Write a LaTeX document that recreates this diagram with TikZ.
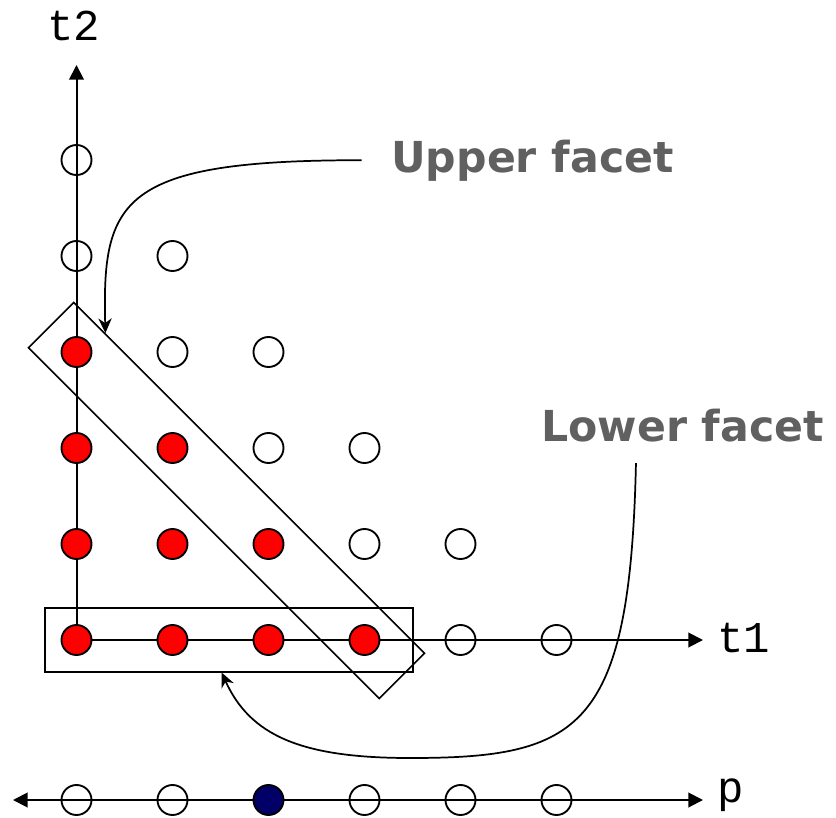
\documentclass[tikz,border=0pt]{standalone}
\usepackage{fontspec}
\usepackage{xcolor}
\usetikzlibrary{arrows.meta,calc,backgrounds}
\newfontfamily\facetfont{DejaVu Sans}
\newfontfamily\axisfont{Liberation Mono}
\definecolor{facetgray}{RGB}{96,96,96}
\definecolor{pointred}{RGB}{255,0,0}
\definecolor{pointnavy}{RGB}{0,0,102}
\tikzset{
  pt/.style={circle,draw,line width=1.4pt,minimum size=22.5pt,inner sep=0pt},
  ptred/.style={pt,fill=pointred},
  ptnavy/.style={pt,fill=pointnavy},
  axis/.style={line width=1.5pt,-{Triangle[length=11pt,width=11pt]}},
  facetbox/.style={draw,line width=1.2pt,inner sep=0pt},
  pointer/.style={line width=1.3pt,-{Stealth[length=11pt,width=10pt]}},
  facetlabel/.style={inner sep=0pt,text=facetgray,font=\facetfont\bfseries\fontsize{32}{38}\selectfont},
  axislabel/.style={inner sep=0pt,font=\axisfont\fontsize{33}{38}\selectfont}
}

\begin{document}
\begin{tikzpicture}[x=0.75pt,y=0.75pt,yscale=-1,xscale=1]
\useasboundingbox (0,0) rectangle (836,818);

%Shape: Circle (row t2=0)
\node [ptred] (g00) at (76.5,640) {};
\node [ptred] (g10) at (172.5,640) {};
\node [ptred] (g20) at (268.5,640) {};
\node [ptred] (g30) at (364.5,640) {};
\node [pt] (g40) at (460.5,640) {};
\node [pt] (g50) at (556.5,640) {};
%Shape: Circle (row t2=1)
\node [ptred] (g01) at (76.5,544) {};
\node [ptred] (g11) at (172.5,544) {};
\node [ptred] (g21) at (268.5,544) {};
\node [pt] (g31) at (364.5,544) {};
\node [pt] (g41) at (460.5,544) {};
%Shape: Circle (row t2=2)
\node [ptred] (g02) at (76.5,448) {};
\node [ptred] (g12) at (172.5,448) {};
\node [pt] (g22) at (268.5,448) {};
\node [pt] (g32) at (364.5,448) {};
%Shape: Circle (row t2=3)
\node [ptred] (g03) at (76.5,352) {};
\node [pt] (g13) at (172.5,352) {};
\node [pt] (g23) at (268.5,352) {};
%Shape: Circle (row t2=4)
\node [pt] (g04) at (76.5,256) {};
\node [pt] (g14) at (172.5,256) {};
%Shape: Circle (row t2=5)
\node [pt] (g05) at (76.5,160) {};

%Shape: Circle (p line)
\node [pt] (p0) at (76.5,800) {};
\node [pt] (p1) at (172.5,800) {};
\node [ptnavy] (p2) at (268.5,800) {};
\node [pt] (p3) at (364.5,800) {};
\node [pt] (p4) at (460.5,800) {};
\node [pt] (p5) at (556.5,800) {};

%Shape: Rectangle (lower facet)
\node [facetbox,minimum width=276pt,minimum height=48pt] (lowerbox) at (229,639.7) {};
%Shape: Rectangle (upper facet)
\node [facetbox,rotate=-45,minimum width=372pt,minimum height=48pt] (upperbox) at (226.5,500.5) {};

% Text Node
\node [axislabel,anchor=base west] (t2) at (47,40) {t2};
% Text Node
\node [axislabel,anchor=base west] (t1) at (717,652) {t1};
% Text Node
\node [axislabel,anchor=base west] (p) at (717,802) {p};
% Text Node
\node [facetlabel,anchor=base west] (upper) at (391,172) {Upper facet};
% Text Node
\node [facetlabel,anchor=base west] (lower) at (541,441) {Lower facet};

\coordinate (t2tip) at (76.5,65);
\coordinate (t1tip) at (703,640);
\coordinate (pleft) at (13,800);
\coordinate (pright) at (703,800);

\begin{scope}[on background layer]
%Straight Lines
\draw [axis] (g00.center) -- (t2tip);
\draw [axis] (g00.center) -- (t1tip);
\draw [axis,{Triangle[length=11pt,width=11pt]}-{Triangle[length=11pt,width=11pt]}] (pleft) -- (pright);
\end{scope}

%Curve Lines
\draw [pointer] ([xshift=-22pt]upper.west) .. controls (120,160) and (102,200) .. ($(upperbox.north west)!0.09!(upperbox.north east)$);
%Curve Lines
\draw [pointer] ([xshift=-35pt,yshift=16pt]lower.south) .. controls (630,730) and (580,758) .. (410,758) .. controls (300,758) and (250,735) .. ($(lowerbox.south west)!0.48!(lowerbox.south east)$);

\end{tikzpicture}
\end{document}
